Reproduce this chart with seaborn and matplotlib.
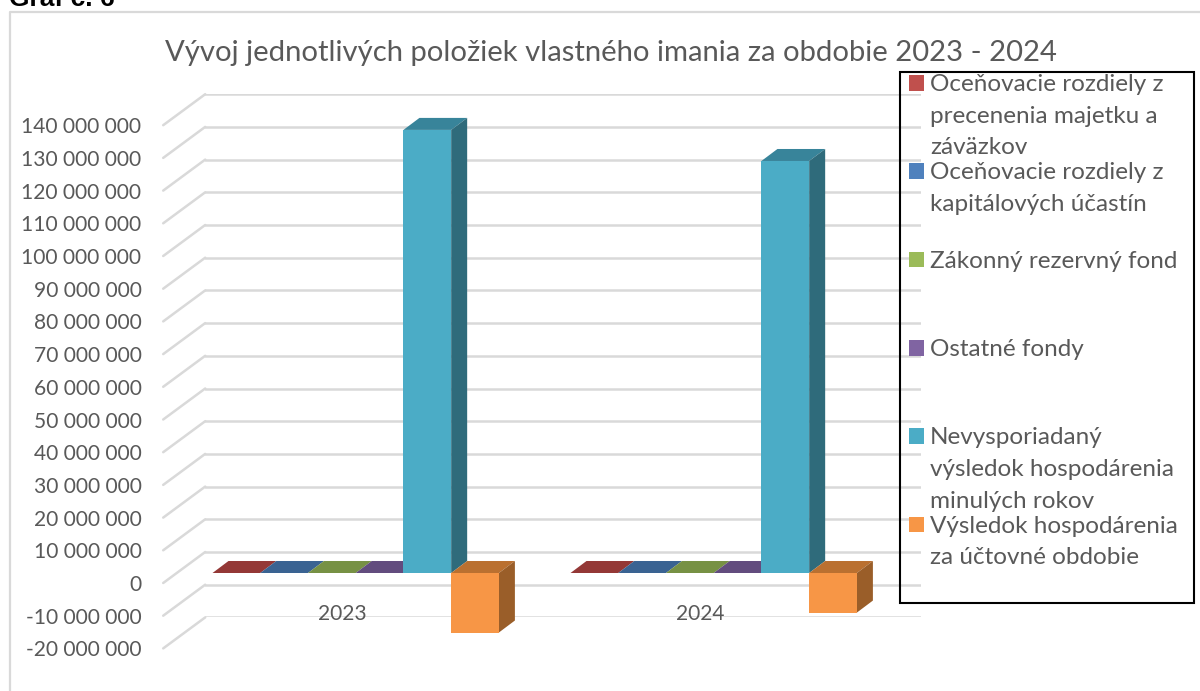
import textwrap
import matplotlib
matplotlib.use("Agg")
import matplotlib.pyplot as plt
import pandas as pd
import seaborn as sns
from matplotlib.legend_handler import HandlerPatch
from matplotlib.lines import Line2D
from matplotlib.patches import ConnectionPatch, Polygon, Rectangle
from matplotlib.ticker import FuncFormatter

title = "Vývoj jednotlivých položiek vlastného imania za obdobie 2023 - 2024"
caption = "Graf č. 6"
years = ["2023", "2024"]
series_names = [
    "Oceňovacie rozdiely z precenenia majetku a záväzkov",
    "Oceňovacie rozdiely z kapitálových účastín",
    "Zákonný rezervný fond",
    "Ostatné fondy",
    "Nevysporiadaný výsledok hospodárenia minulých rokov",
    "Výsledok hospodárenia za účtovné obdobie",
]
precenenie = [0, 0]
kapitalove = [0, 0]
rezervny = [0, 0]
ostatne = [0, 0]
nevysporiadany = [135500000, 126000000]
vysledok = [-18200000, -12100000]
front_colors = ["#C0504D", "#4F81BD", "#9BBB59", "#8064A2", "#4BACC6", "#F79646"]
top_colors = ["#943836", "#3A6392", "#779144", "#624C7E", "#38849A", "#BA7030"]
side_colors = ["#7F2F2D", "#315479", "#647A39", "#523F69", "#2F6B7B", "#9A5E29"]
tick_values = list(range(-20000000, 140000001, 10000000))
y_limits = (tick_values[0], tick_values[-1])

W, H = 1200, 691
FONT = "Lato"
TEXT = "#595959"
GRID = "#D9D9D9"

sns.set_style("white")
plt.rcParams["font.family"] = [FONT, "DejaVu Sans"]

fig = plt.figure(figsize=(W / 100, H / 100), dpi=100, facecolor="white")


def rect(left, top, right, bottom):
    return [left / W, 1 - bottom / H, (right - left) / W, (bottom - top) / H]


# Three parallel planes of the pseudo-3D chart: back wall, bars, front edge.
bar_box = (176.7, 115.2, 892.7, 638.4)
back_shift = (28.5, -21)
front_shift = (-13.5, 10)


def shifted(box, s):
    return rect(box[0] + s[0], box[1] + s[1], box[2] + s[0], box[3] + s[1])


ax_back = fig.add_axes(shifted(bar_box, back_shift), facecolor="none", zorder=0)
ax_front = fig.add_axes(shifted(bar_box, front_shift), facecolor="none", zorder=1)
ax = fig.add_axes(rect(*bar_box), facecolor="none", zorder=2)

df = pd.DataFrame(
    {
        "Rok": years * 6,
        "Položka": [n for n in series_names for _ in years],
        "Hodnota": precenenie + kapitalove + rezervny + ostatne + nevysporiadany + vysledok,
    }
)
sns.barplot(
    data=df, x="Rok", y="Hodnota", hue="Položka", hue_order=series_names,
    order=years, palette=front_colors, width=0.8, gap=0, saturation=1,
    linewidth=0, errorbar=None, ax=ax,
)
handles, _ = ax.get_legend_handles_labels()
ax.get_legend().remove()
ax.set_xlim(-0.5, 1.5)
ax.set_ylim(*y_limits)
ax.axis("off")

# depth of a bar, in the bar plane's data units
x_per_px = 2 / (bar_box[2] - bar_box[0])
y_per_px = (y_limits[1] - y_limits[0]) / (bar_box[3] - bar_box[1])
dx, dy = 16 * x_per_px, 12 * y_per_px
for container, top_c, side_c in zip(ax.containers, top_colors, side_colors):
    for bar in container:
        bar.set_zorder(3)
        x0, w = bar.get_x(), bar.get_width()
        hi = max(bar.get_y(), bar.get_y() + bar.get_height())
        lo = min(bar.get_y(), bar.get_y() + bar.get_height())
        ax.add_patch(Polygon([(x0, hi), (x0 + w, hi), (x0 + w + dx, hi + dy), (x0 + dx, hi + dy)],
                             closed=True, facecolor=top_c, edgecolor="none", zorder=2, clip_on=False))
        if hi > lo:
            ax.add_patch(Polygon([(x0 + w, lo), (x0 + w + dx, lo + dy), (x0 + w + dx, hi + dy), (x0 + w, hi)],
                                 closed=True, facecolor=side_c, edgecolor="none", zorder=2, clip_on=False))

for a in (ax_back, ax_front):
    a.set_xlim(-0.5, 1.5)
    a.set_ylim(*y_limits)
    a.set_yticks(tick_values)
    for s in a.spines.values():
        s.set_visible(False)

ax_back.set_xticks([])
ax_back.tick_params(left=False, labelleft=False)
ax_back.grid(axis="y", color=GRID, linewidth=1.8)

ax_front.yaxis.set_major_formatter(FuncFormatter(lambda v, _: f"{v:,.0f}".replace(",", " ")))
ax_front.tick_params(axis="y", length=0, pad=15.7, labelsize=15.1, labelcolor=TEXT)
ax_front.set_xticks([0, 1], years)
ax_front.spines["bottom"].set_position(("data", 0))
ax_front.tick_params(axis="x", length=0, pad=15, labelsize=15.1, labelcolor=TEXT)

for v in tick_values:
    fig.add_artist(ConnectionPatch(
        xyA=(-0.5, v), coordsA=ax_front.transData,
        xyB=(-0.5, v), coordsB=ax_back.transData,
        color=GRID, linewidth=1.8, zorder=0))

# outer chart frame, cut by the picture's right and bottom edge
fig.add_artist(Line2D([10 / W, 10 / W, 1], [0, 1 - 11.5 / H, 1 - 11.5 / H], color=GRID, linewidth=1.6))

fig.text(165 / W, 1 - 53.5 / H, title, fontsize=21.1, color=TEXT, va="center", ha="left")
fig.text(9 / W, 1 - 5.5 / H, caption, fontsize=19, fontweight="bold", color="black",
         family="Liberation Sans", va="baseline", ha="left")

# legend box
fig.add_artist(Rectangle((899.5 / W, 1 - 602.5 / H), 294.5 / W, 531 / H, transform=fig.transFigure,
                         facecolor="none", edgecolor="black", linewidth=1.5, zorder=5))


class Swatch(HandlerPatch):
    """Swatch beside the first line of a three-line entry."""

    def _create_patch(self, legend, orig_handle, xdescent, ydescent, width, height, fontsize):
        return Rectangle((-xdescent, -ydescent + 24.1), width, height)


labels = []
for name in series_names:
    lines = textwrap.wrap(name, 21)
    labels.append("\n".join(lines + [""] * (3 - len(lines))))

legend = fig.legend(
    handles, labels, loc="upper left", bbox_to_anchor=(909 / W, 1 - 74 / H),
    bbox_transform=fig.transFigure, frameon=False, fontsize=17.5,
    labelcolor=TEXT, borderpad=0, borderaxespad=0, labelspacing=0.162,
    handlelength=0.62, handleheight=0.62, handletextpad=0.25,
    handler_map={Rectangle: Swatch()},
)
legend.set_zorder(6)
for t in legend.get_texts():
    t.set_linespacing(1.63)

fig.savefig("out.png", dpi=100)
